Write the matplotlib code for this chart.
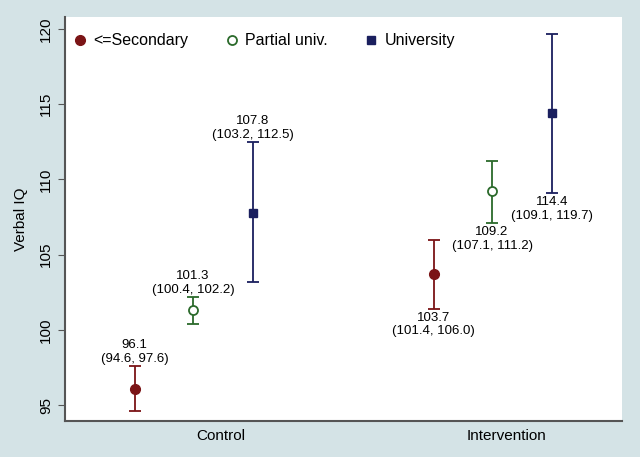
import numpy as np
import matplotlib
matplotlib.use("Agg")
import matplotlib.pyplot as plt

plt.rcParams["font.family"] = ["Liberation Sans", "DejaVu Sans"]

groups = ["Control", "Intervention"]
levels = ["<=Secondary", "Partial univ.", "University"]
means = {
    "<=Secondary": [96.1, 103.7],
    "Partial univ.": [101.3, 109.2],
    "University": [107.8, 114.4],
}
lower = {
    "<=Secondary": [94.6, 101.4],
    "Partial univ.": [100.4, 107.1],
    "University": [103.2, 109.1],
}
upper = {
    "<=Secondary": [97.6, 106.0],
    "Partial univ.": [102.2, 111.2],
    "University": [112.5, 119.7],
}

COLORS = {"<=Secondary": "#7b1416", "Partial univ.": "#2b6a2b", "University": "#1a1f5e"}
MARKERS = {"<=Secondary": dict(marker="o", ms=7, mfc="#7b1416"),
           "Partial univ.": dict(marker="o", ms=6.5, mfc="white", mew=1.3),
           "University": dict(marker="s", ms=6, mfc="#1a1f5e")}
OFFSETS = [-0.195, 0.0, 0.2]
BG = "#d4e3e6"

fig = plt.figure(figsize=(6.4, 4.57), dpi=100, facecolor=BG)
ax = fig.add_axes([0.1016, 0.0788, 0.8704, 0.884])
ax.set_facecolor("white")

centers = np.arange(len(groups))
for lev, off in zip(levels, OFFSETS):
    m = np.array(means[lev]); lo = np.array(lower[lev]); hi = np.array(upper[lev])
    xs = centers + off
    ax.errorbar(xs, m, yerr=[m - lo, hi - m], fmt="none", ecolor=COLORS[lev],
                elinewidth=1.3, capsize=4, capthick=1.3)
    ax.plot(xs, m, ls="none", color=COLORS[lev], label=lev, **MARKERS[lev])
    for gi, x in enumerate(xs):
        txt = f"{m[gi]:.1f}\n({lo[gi]:.1f}, {hi[gi]:.1f})"
        if gi == 0:
            ax.annotate(txt, (x, hi[gi]), xytext=(0, 0.5), textcoords="offset points",
                        ha="center", va="bottom", fontsize=9.5, linespacing=1.2)
        else:
            ax.annotate(txt, (x, lo[gi]), xytext=(0, -2), textcoords="offset points",
                        ha="center", va="top", fontsize=9.5, linespacing=1.2)

ax.set_xlim(-0.428, 1.435)
ax.set_ylim(93.94, 120.8)
ax.set_yticks([95, 100, 105, 110, 115, 120])
ax.tick_params(axis="y", labelsize=11, labelrotation=90, length=5, color="#555555")
for lab in ax.get_yticklabels():
    lab.set_va("center")
ax.set_xticks([0.094, 1.047])
ax.set_xticklabels(groups, fontsize=11)
ax.tick_params(axis="x", length=0, pad=6)
ax.set_ylabel("Verbal IQ", fontsize=11, labelpad=8)

for s in ["top", "right"]:
    ax.spines[s].set_visible(False)
for s in ["left", "bottom"]:
    ax.spines[s].set_color("#555555")
    ax.spines[s].set_linewidth(1.5)

ax.legend(loc="upper left", bbox_to_anchor=(0.007, 0.968), ncol=3, frameon=False,
          fontsize=11.5, handletextpad=0.35, columnspacing=2.2, handlelength=1.0,
          borderaxespad=0.0, borderpad=0.2, numpoints=1)

fig.savefig("out.png", dpi=100, facecolor=BG)
